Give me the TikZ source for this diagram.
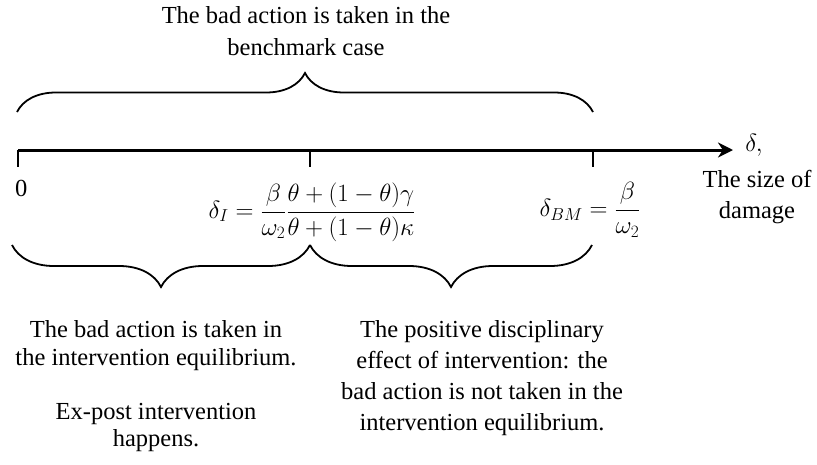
\documentclass[tikz,border=0pt]{standalone}
\usepackage{fontspec}
\setmainfont{Liberation Serif}
\usetikzlibrary{decorations.pathreplacing,arrows.meta}
\begin{document}
\begin{tikzpicture}[x=1pt,y=-1pt,
  txt/.style={font=\fontsize{24.5}{#1}\selectfont, align=center, inner sep=0pt, anchor=north},
  mth/.style={font=\fontsize{27}{30}\selectfont, inner sep=0pt},
  brc/.style={decorate, decoration={brace, amplitude=#1}, line width=1.8pt},
  axisline/.style={line width=3pt, -{Stealth[length=15pt,width=15pt]}},
  tickline/.style={line width=1.3pt}]
\useasboundingbox (0,0) rectangle (817,464);
% axis
\coordinate (a0) at (18,150);
\coordinate (a1) at (733,150);
\draw[axisline] (a0) -- (a1);
% ticks
\coordinate (t0) at (18,150);   \coordinate (t0b) at (18,167);
\coordinate (t1) at (310,150);  \coordinate (t1b) at (310,167);
\coordinate (t2) at (593,150);  \coordinate (t2b) at (593,167);
\draw[tickline] (t0) -- (t0b);
\draw[tickline] (t1) -- (t1b);
\draw[tickline] (t2) -- (t2b);
% top brace
\coordinate (b0) at (17,112);
\coordinate (b1) at (593,112);
\draw[brc=39pt] (b0) -- (b1);
% bottom braces
\coordinate (c0) at (12,245);
\coordinate (c1) at (310,245);
\coordinate (c2) at (592,245);
\draw[brc=42pt] (c1) -- (c0);
\draw[brc=42pt] (c2) -- (c1);
% labels
\node[txt=32] (top) at (306,6.3) {The bad action is taken in the\\benchmark case};
\node[font=\fontsize{24.5}{30}\selectfont, inner sep=0pt] (dl) at (754,145) {$\delta,$};
\node[txt=31] (size) at (757,170.3) {The size of\\damage};
\node[font=\fontsize{24.5}{30}\selectfont, inner sep=0pt, anchor=north west] (zero) at (15,180) {0};
\node[mth] (dI) at (312,212) {$\displaystyle \delta_I=\frac{\beta}{\omega_2}\frac{\theta+(1-\theta)\gamma}{\theta+(1-\theta)\kappa}$};
\node[mth] (dBM) at (590,210) {$\displaystyle \delta_{BM}=\frac{\beta}{\omega_2}$};
\node[txt=28] (left1) at (156,320.3) {The bad action is taken in\\the intervention equilibrium.};
\node[txt=27] (left2) at (156,403.5) {Ex-post intervention\\happens.};
\node[txt=31] (right) at (482,320.3) {The positive disciplinary\\effect of intervention: the\\bad action is not taken in the\\intervention equilibrium.};
\end{tikzpicture}
\end{document}
